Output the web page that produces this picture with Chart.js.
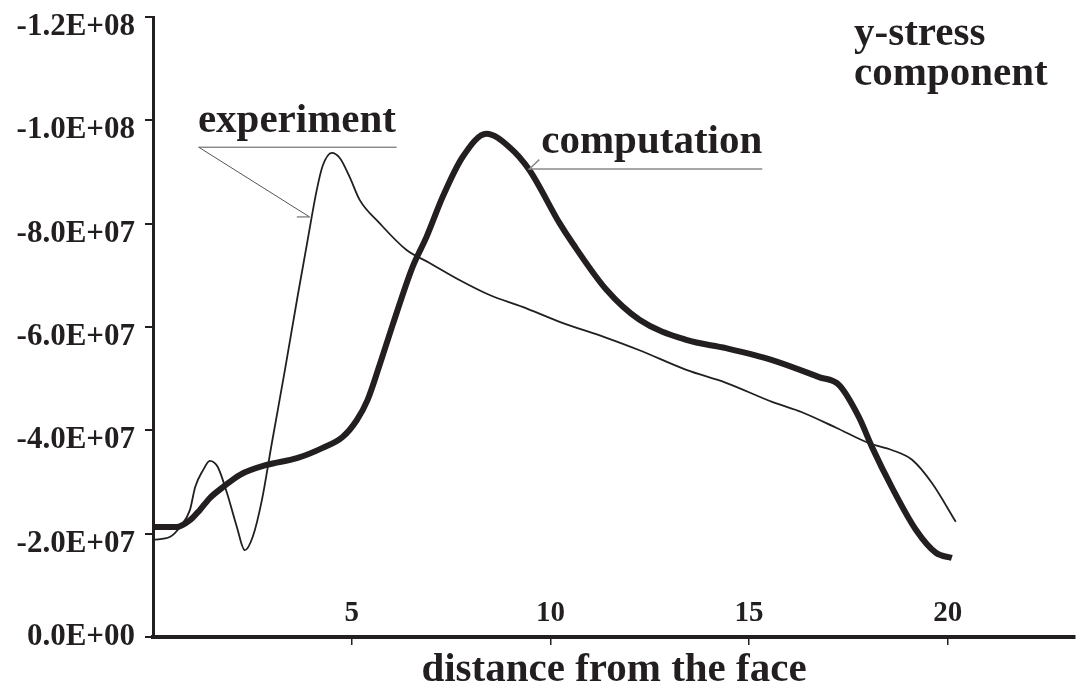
<!DOCTYPE html>
<html>
<head>
<meta charset="utf-8">
<script src="https://cdn.jsdelivr.net/npm/chart.js@4.4.1/dist/chart.umd.min.js"></script>
<style>
  html, body { margin: 0; padding: 0; background: #fff; }
  #wrap { width: 1079px; height: 688px; position: relative; }
</style>
</head>
<body>
<div id="wrap"><canvas id="stressChart"></canvas></div>
<script>
// computation (thick line)
const compDist = [0, 0.6, 0.93, 1.18, 1.43, 1.76, 2.19, 2.86, 3.62, 4.27, 4.77, 5.13, 5.4, 5.7, 6.03, 6.53, 6.88, 7.29, 7.79, 8.39, 8.97, 9.47, 10.23, 10.55, 11.41, 12.24, 13.42, 14.42, 15.58, 16.76, 17.26, 17.76, 18.09, 18.59, 19.2, 19.7, 20.1];
const compStress = [-21.3e6, -21.3e6, -22.6e6, -24.6e6, -26.9e6, -29.0e6, -31.4e6, -33.3e6, -34.6e6, -36.6e6, -38.7e6, -42.0e6, -45.9e6, -52.6e6, -60.4e6, -71.6e6, -77.4e6, -85.2e6, -92.9e6, -97.4e6, -94.8e6, -90.4e6, -80.1e6, -76.3e6, -67.2e6, -61.4e6, -57.5e6, -55.9e6, -53.6e6, -50.3e6, -48.8e6, -42.6e6, -36.8e6, -29.0e6, -20.7e6, -16.3e6, -15.3e6];

// experiment (thin line)
const expDist = [0, 0.43, 0.68, 0.93, 1.06, 1.26, 1.43, 1.63, 1.86, 2.11, 2.31, 2.51, 2.74, 2.99, 3.32, 3.64, 3.87, 4.12, 4.27, 4.5, 4.7, 4.95, 5.2, 5.7, 6.38, 6.96, 7.71, 8.47, 9.3, 10.23, 11.41, 12.24, 13.42, 14.42, 15.58, 16.33, 17.19, 18.02, 18.59, 19.1, 19.6, 20.2];
const expStress = [-18.8e6, -19.4e6, -21.3e6, -24.6e6, -29.0e6, -32.3e6, -34.1e6, -32.9e6, -27.9e6, -21.3e6, -16.8e6, -19.4e6, -26.5e6, -37.5e6, -51.7e6, -66.0e6, -75.9e6, -86.5e6, -91.2e6, -93.7e6, -92.7e6, -89.0e6, -84.6e6, -80.1e6, -74.9e6, -72.4e6, -69.1e6, -66.2e6, -63.9e6, -61.0e6, -57.9e6, -55.5e6, -51.7e6, -49.2e6, -45.5e6, -43.5e6, -40.5e6, -37.5e6, -36.2e6, -34.3e6, -29.8e6, -22.3e6];

const xTicks = [5, 10, 15, 20];
const yMin = -1.2e8, yMax = 0, yStep = 2e7;

const ink = '#231f20';
const serif = '"Liberation Serif", "Times New Roman", serif';

// -1.2E+08 style labels
function sciLabel(v) {
    if (v === 0) return '0.0E+00';
    const e = Math.floor(Math.log10(Math.abs(v)));
    const m = v / Math.pow(10, e);
    return m.toFixed(1) + 'E+' + String(e).padStart(2, '0');
}

const toPoints = (xs, ys) => xs.map((d, i) => ({ x: d, y: ys[i] }));

// labels and leader lines drawn on top of the curves
const callouts = {
    id: 'callouts',
    afterDatasetsDraw(chart) {
        const { ctx, scales: { x, y } } = chart;
        const px = v => x.getPixelForValue(v);
        const py = v => y.getPixelForValue(v);
        ctx.save();
        ctx.fillStyle = ink;
        ctx.font = 'bold 41px ' + serif;
        ctx.textBaseline = 'alphabetic';
        ctx.fillText('experiment', px(1.13), py(-97.7e6));
        ctx.fillText('computation', px(9.77), py(-93.7e6));
        ctx.fillText('y-stress', px(17.64), py(-114.6e6));
        ctx.fillText('component', px(17.64), py(-106.8e6));

        ctx.lineWidth = 1;
        ctx.strokeStyle = '#555';
        ctx.beginPath();
        ctx.moveTo(px(6.13), py(-94.8e6));
        ctx.lineTo(px(1.15), py(-94.8e6));
        ctx.lineTo(px(3.94), py(-81.3e6));
        ctx.lineTo(px(3.62), py(-81.3e6));
        ctx.stroke();

        ctx.strokeStyle = '#8a8a8a';
        ctx.lineWidth = 1.5;
        ctx.beginPath();
        ctx.moveTo(px(15.33), py(-90.6e6));
        ctx.lineTo(px(9.47), py(-90.6e6));
        ctx.lineTo(px(9.72), py(-92.4e6));
        ctx.stroke();
        ctx.restore();
    }
};

new Chart(document.getElementById('stressChart'), {
    type: 'scatter',
    data: {
        datasets: [
            {
                label: 'experiment',
                data: toPoints(expDist, expStress),
                showLine: true,
                borderColor: ink,
                borderWidth: 1.8,
                pointRadius: 0,
                cubicInterpolationMode: 'monotone'
            },
            {
                label: 'computation',
                data: toPoints(compDist, compStress),
                showLine: true,
                borderColor: ink,
                borderWidth: 6,
                pointRadius: 0,
                cubicInterpolationMode: 'monotone'
            }
        ]
    },
    options: {
        responsive: true,
        maintainAspectRatio: false,
        animation: false,
        layout: { padding: { top: 17, right: 4, left: 0, bottom: 0 } },
        plugins: {
            legend: { display: false },
            tooltip: { enabled: false }
        },
        scales: {
            x: {
                type: 'linear',
                min: 0,
                max: 23.2,
                afterBuildTicks: s => { s.ticks = xTicks.map(v => ({ value: v })); },
                afterFit: s => { s.height = 51; s.paddingLeft = 0; s.paddingRight = 0; },
                border: { display: true, color: ink, width: 4 },
                grid: { drawOnChartArea: false, drawTicks: true, tickLength: 8, color: ink, lineWidth: 1.5 },
                ticks: {
                    color: ink,
                    mirror: true,   // numbers sit above the axis line, inside the plot
                    padding: 9,
                    maxRotation: 0,
                    font: { family: serif, size: 29, weight: 'bold', lineHeight: 1 }
                },
                title: {
                    display: true,
                    text: 'distance from the face',
                    color: ink,
                    padding: 0,
                    font: { family: serif, size: 41, weight: 'bold', lineHeight: 0.88 }
                }
            },
            y: {
                min: yMin,
                max: yMax,
                reverse: true,
                afterFit: s => { s.width = 153; s.paddingTop = 0; s.paddingBottom = 0; },
                border: { display: true, color: ink, width: 3 },
                grid: { drawOnChartArea: false, drawTicks: true, tickLength: 8, color: ink, lineWidth: 2 },
                ticks: {
                    stepSize: yStep,
                    color: ink,
                    padding: 10,
                    // empty first line pushes the label just under its tick, like the original
                    callback: v => v === 0 ? sciLabel(v) : ['', sciLabel(v)],
                    font: { family: serif, size: 31, weight: 'bold', lineHeight: '20px' }
                }
            }
        }
    },
    plugins: [callouts]
});
</script>
</body>
</html>
